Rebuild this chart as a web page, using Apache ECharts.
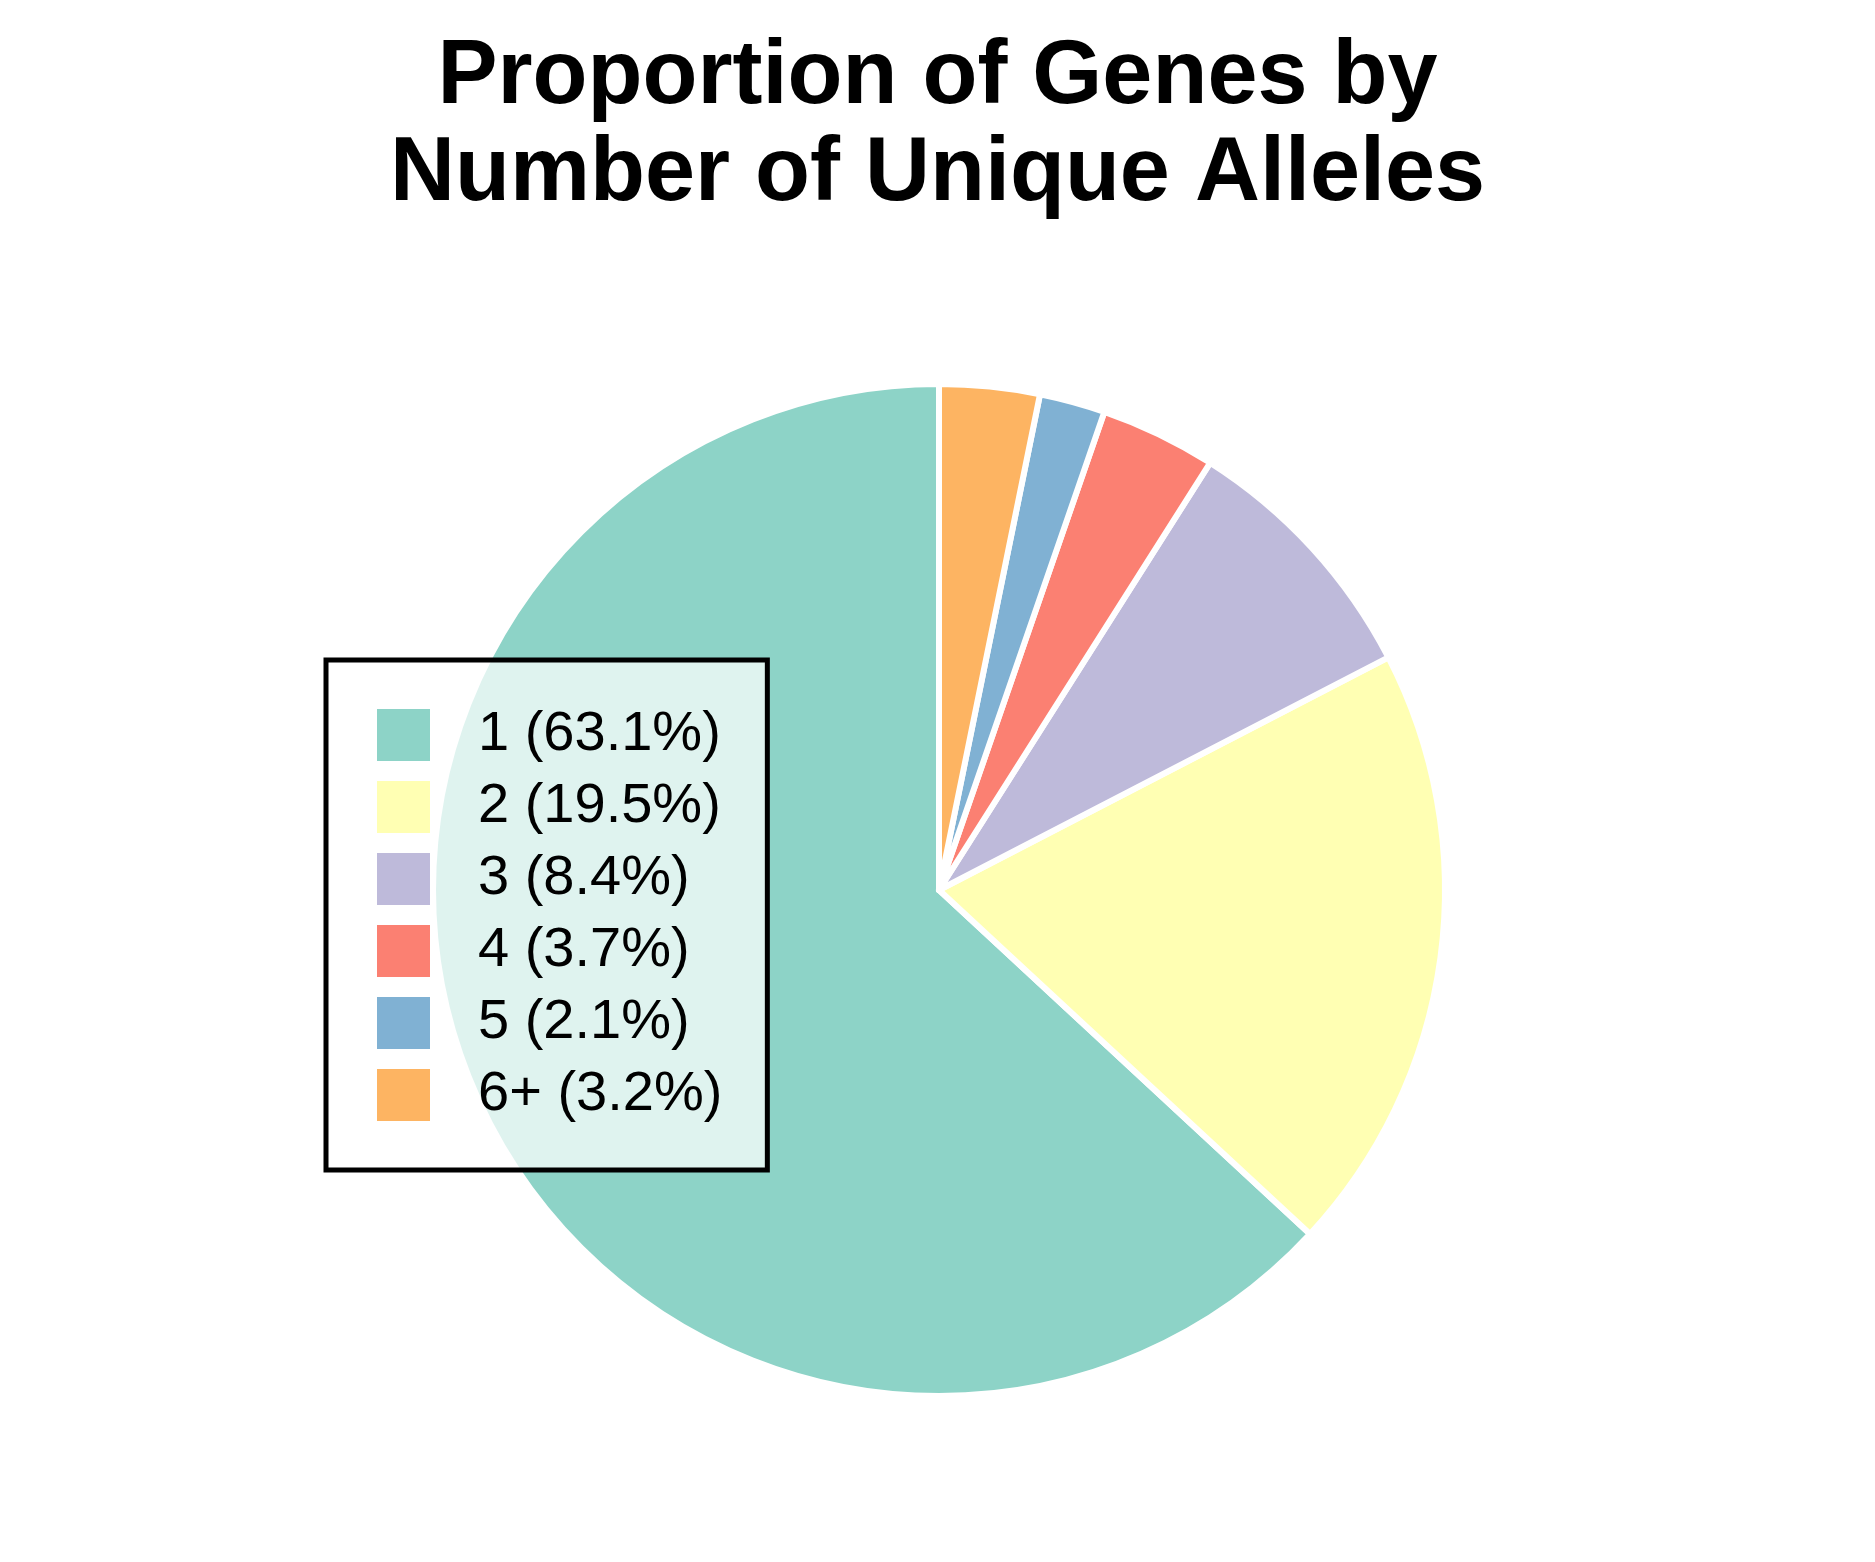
<!DOCTYPE html>
<html>
<head>
<meta charset="utf-8">
<script src="https://cdn.jsdelivr.net/npm/echarts@6/dist/echarts.min.js"></script>
<style>
  html, body { margin: 0; padding: 0; background: #fff; }
  #root { width: 1875px; height: 1562px; }
</style>
</head>
<body>
<div id="root"></div>
<script>
var categories = ['1', '2', '3', '4', '5', '6+']
var shares = [63.1, 19.5, 8.4, 3.7, 2.1, 3.2]
var colors = ['#8dd3c7', '#ffffb3', '#bebada', '#fb8072', '#80b1d3', '#fdb462']

var font = 'Liberation Sans, Arial, Helvetica, sans-serif'

var data = categories.map(function (c, i) {
    return { name: c, value: shares[i], itemStyle: { color: colors[i] } }
})

var chart = echarts.init(document.getElementById('root'))
var option = {
    backgroundColor: '#fff',
    animation: false,
    title: {
        text: 'Proportion of Genes by\nNumber of Unique Alleles',
        left: 'center',
        top: 25,
        textStyle: {
            fontFamily: font,
            fontWeight: 'bold',
            fontSize: 90,
            lineHeight: 97,
            color: '#000'
        }
    },
    legend: {
        orient: 'vertical',
        left: 326,
        top: 660,
        icon: 'rect',
        itemWidth: 55,
        itemHeight: 54,
        itemGap: 16,
        padding: [47, 45, 47, 49],
        backgroundColor: 'rgba(255,255,255,0.72)',
        borderColor: '#000',
        borderWidth: 5,
        data: categories,
        formatter: function (name) {
            var i = categories.indexOf(name)
            return name + ' (' + shares[i].toFixed(1) + '%)'
        },
        textStyle: {
            fontFamily: font,
            fontSize: 56,
            color: '#000',
            padding: [0, 0, 0, 42]
        }
    },
    series: [{
        type: 'pie',
        center: [939, 890],
        radius: 506,
        startAngle: 90,
        clockwise: false,
        label: { show: false },
        labelLine: { show: false },
        itemStyle: { borderColor: '#fff', borderWidth: 6 },
        emphasis: { disabled: true },
        data: data
    }]
}
chart.setOption(option)
</script>
</body>
</html>
